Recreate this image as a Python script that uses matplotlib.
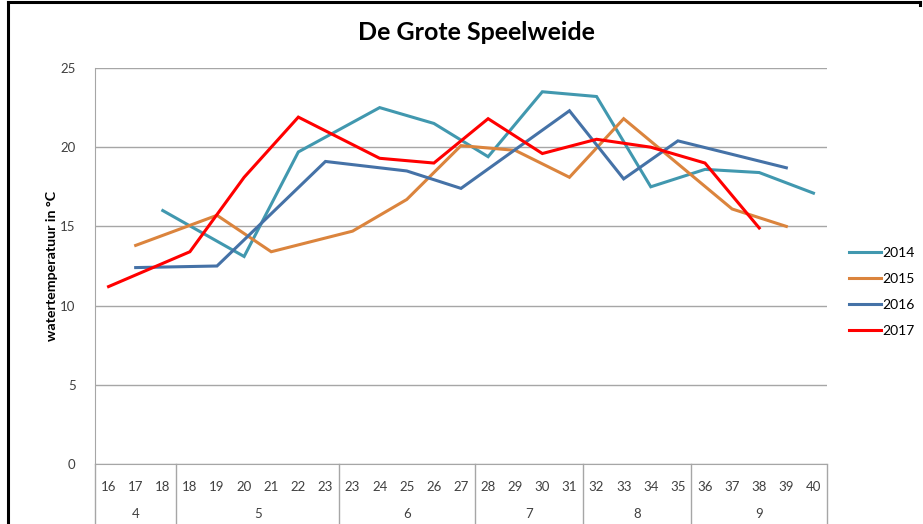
import numpy as np
import matplotlib
matplotlib.use("Agg")
import matplotlib.pyplot as plt
from matplotlib.lines import Line2D

plt.rcParams['font.family'] = ['Lato', 'DejaVu Sans']

# week numbers on the x axis (18 and 23 appear twice, split over two months)
weeks = [16, 17, 18, 18, 19, 20, 21, 22, 23, 23, 24, 25, 26, 27,
         28, 29, 30, 31, 32, 33, 34, 35, 36, 37, 38, 39, 40]
months = [4, 5, 6, 7, 8, 9]
month_sizes = [3, 6, 5, 4, 4, 5]

N = None
t2014 = [N, N, 16.0, N, N, 13.1, N, 19.7, N, N, 22.5, N, 21.5, N,
         19.4, N, 23.5, N, 23.2, N, 17.5, N, 18.6, N, 18.4, N, 17.1]
t2015 = [N, 13.8, N, N, 15.7, N, 13.4, N, N, 14.7, N, 16.7, N, 20.1,
         N, 19.8, N, 18.1, N, 21.8, N, N, N, 16.1, N, 15.0, N]
t2016 = [N, 12.4, N, N, 12.5, N, N, N, 19.1, N, N, 18.5, N, 17.4,
         N, N, N, 22.3, N, 18.0, N, 20.4, N, N, N, 18.7, N]
t2017 = [11.2, N, N, 13.4, N, 18.1, N, 21.9, N, N, 19.3, N, 19.0, N,
         21.8, N, 19.6, N, 20.5, N, 20.0, N, 19.0, N, 14.9, N, N]

series = [("2014", t2014, "#4198AF"),
          ("2015", t2015, "#DB843D"),
          ("2016", t2016, "#4572A7"),
          ("2017", t2017, "#FF0000")]

W, H = 923, 524
fig = plt.figure(figsize=(W / 100, H / 100), dpi=100)
fig.patch.set_facecolor("white")

left, right, top, bottom = 95, 827, 68, 464
ax = fig.add_axes([left / W, 1 - bottom / H, (right - left) / W, (bottom - top) / H])

x = np.arange(len(weeks))
for label, vals, color in series:
    y = np.array(vals, dtype=float)
    ok = ~np.isnan(y)
    ax.plot(x[ok], y[ok], color=color, lw=2.2, label=label, solid_joinstyle="miter")

ax.set_xlim(-0.5, len(weeks) - 0.5)
ax.set_ylim(0, 25)
ax.set_yticks([0, 5, 10, 15, 20, 25])
ax.grid(axis="y", color="#a6a6a6", lw=1)
ax.set_axisbelow(True)

grey = "#a6a6a6"
for s in ["top", "right"]:
    ax.spines[s].set_visible(False)
ax.spines["left"].set_color(grey)
ax.spines["bottom"].set_color(grey)

ax.set_xticks(x)
ax.set_xticklabels([str(w) for w in weeks])
ax.tick_params(axis="x", length=0, pad=12, labelsize=9.5, colors="#404040")
ax.tick_params(axis="y", length=0, pad=14, labelsize=9.5, colors="#404040")

# month row and group separators below the axis
axh = bottom - top
trans = ax.get_xaxis_transform()
edges = np.concatenate([[0], np.cumsum(month_sizes)]) - 0.5
for e in edges:
    ax.add_line(Line2D([e, e], [0, -(H - bottom) / axh], transform=trans,
                       color=grey, lw=1, clip_on=False))
for m, a, b in zip(months, edges[:-1], edges[1:]):
    ax.text((a + b) / 2, -50 / axh, str(m), transform=trans, ha="center",
            va="center", fontsize=9.5, color="#404040")

ax.set_ylabel("watertemperatuur in °C", fontsize=10.2, fontweight="bold")
ax.yaxis.set_label_coords(-37 / (right - left), 0.5)

fig.text(476 / W, 1 - 33 / H, "De Grote Speelweide", ha="center", va="center",
         fontsize=18, fontweight="bold")

ax.legend(loc="center left", bbox_to_anchor=(849 / W, 1 - 292 / H),
          bbox_transform=fig.transFigure, frameon=False, fontsize=10,
          handlelength=2.3, handletextpad=0.1, labelspacing=1.0,
          borderpad=0, borderaxespad=0)

# black frame at the top and left edge of the image
fig.add_artist(Line2D([8 / W, 920 / W], [1 - 2 / H, 1 - 2 / H], color="black", lw=2.2))
fig.add_artist(Line2D([8 / W, 8 / W], [0, 1 - 2 / H], color="black", lw=2.2))
fig.add_artist(Line2D([920 / W, 920 / W], [1 - 2 / H, 1 - 5 / H], color="black", lw=2.2))

fig.savefig("out.png", dpi=100)
